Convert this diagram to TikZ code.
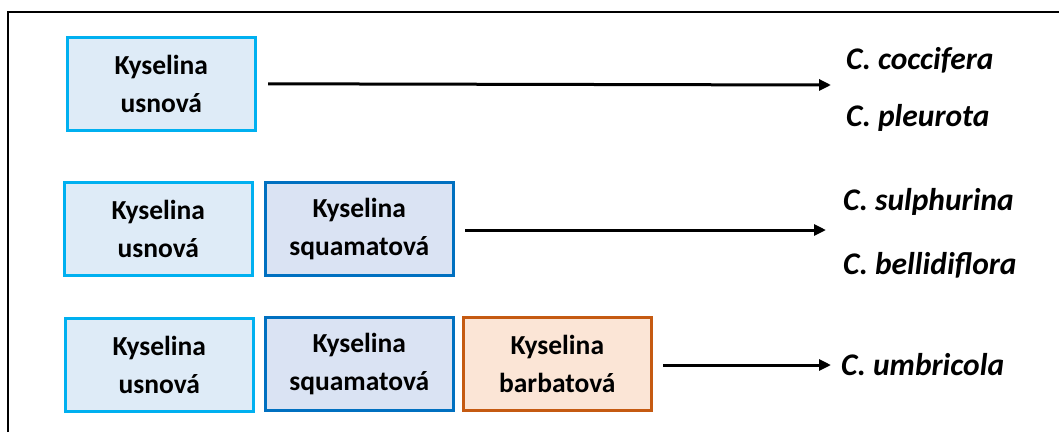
\documentclass[tikz,border=0pt]{standalone}
\usepackage{fontspec}
\setmainfont{Carlito}
\usetikzlibrary{arrows.meta}
\definecolor{usnB}{HTML}{00B0F0}
\definecolor{usnF}{HTML}{DEEBF7}
\definecolor{squB}{HTML}{0070C0}
\definecolor{squF}{HTML}{DAE3F3}
\definecolor{barB}{HTML}{C55A11}
\definecolor{barF}{HTML}{FBE5D6}
\begin{document}
\begin{tikzpicture}[x=1pt,y=-1pt,
  box/.style={draw, line width=2.6pt, minimum width=188pt, minimum height=93pt, inner sep=0pt,
    align=center, font=\fontsize{27.5}{38}\selectfont\bfseries, anchor=north west},
  usn/.style={box, draw=usnB, fill=usnF},
  squ/.style={box, draw=squB, fill=squF},
  bar/.style={box, draw=barB, fill=barF},
  arr/.style={line width=3pt, -{Triangle[length=12pt,width=11pt]}},
  lab/.style={font=\fontsize{31.5}{34}\selectfont\bfseries\itshape, anchor=west, inner sep=0pt}]
\useasboundingbox (0,0) rectangle (1059,432);
\draw[line width=1.5pt] (8,432) -- (8,12) -- (1059,12);
% row 1
\node[usn] (u1) at (66,36) {Kyselina\\usnová};
\coordinate (t1) at (831,85);
\node[lab] (c1) at (846,60) {C. coccifera};
\node[lab] (c2) at (846,118) {C. pleurota};
\draw[arr] (u1.east -| 268,0) -- (t1);
% row 2
\node[usn] (u2) at (63,181) {Kyselina\\usnová};
\node[squ] (s2) at (264,181) {Kyselina\\squamatová};
\coordinate (t2) at (826,230);
\node[lab] (c3) at (843,202) {C. sulphurina};
\node[lab] (c4) at (843,265) {C. bellidiflora};
\draw[arr] (465,230) -- (t2);
% row 3
\node[usn] (u3) at (64,317) {Kyselina\\usnová};
\node[squ] (s3) at (264,316) {Kyselina\\squamatová};
\node[bar] (b3) at (462,316) {Kyselina\\barbatová};
\node[lab] (c5) at (841,365) {C. umbricola};
\draw[arr] (663,365) -- ([xshift=-10pt]c5.west);
\end{tikzpicture}
\end{document}
